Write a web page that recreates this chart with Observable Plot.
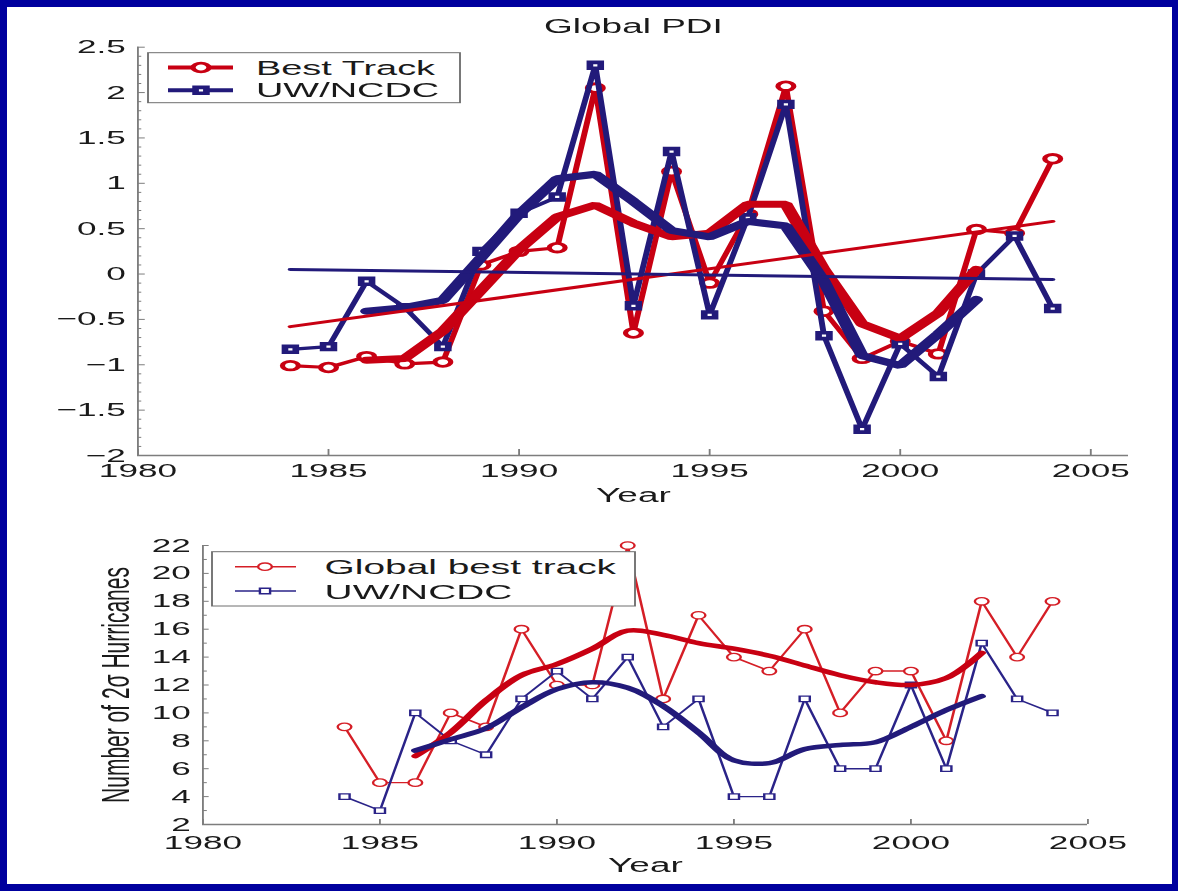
<!DOCTYPE html>
<html><head><meta charset="utf-8">
<script src="https://cdn.jsdelivr.net/npm/d3@7"></script>
<script src="https://cdn.jsdelivr.net/npm/@observablehq/plot@0.6"></script>
<style>
html,body{margin:0;padding:0;}
body{width:1178px;height:891px;background:#00009E;position:relative;overflow:hidden;font-family:"Liberation Sans",Arial,sans-serif;}
#panel{position:absolute;left:7px;top:7px;width:1165px;height:877px;background:#fff;}
.chart{position:absolute;left:0;width:637px;transform-origin:0 0;transform:scaleX(1.85);}
</style></head><body>
<div id="panel"></div>
<div id="top" class="chart" style="top:0px"></div>
<div id="bottom" class="chart" style="top:500px"></div>
<script>
// ---------------- data ----------------
const years = [1984,1985,1986,1987,1988,1989,1990,1991,1992,1993,1994,1995,1996,1997,1998,1999,2000,2001,2002,2003,2004];
const smoothYears = [1986,1987,1988,1989,1990,1991,1992,1993,1994,1995,1996,1997,1998,1999,2000,2001,2002];
const trendYears = [1984, 2004];

// Top panel: Global PDI (normalized)
const bestTrackPDI = [-1.01,-1.03,-0.91,-0.99,-0.97,0.10,0.25,0.29,2.05,-0.65,1.13,-0.10,0.66,2.07,-0.41,-0.93,-0.74,-0.88,0.49,0.45,1.27];
const ncdcPDI      = [-0.83,-0.80,-0.08,-0.37,-0.80,0.25,0.67,0.85,2.30,-0.35,1.35,-0.45,0.62,1.87,-0.68,-1.71,-0.77,-1.13,0.00,0.42,-0.38];
const bestTrackPDISmooth = [-0.95,-0.93,-0.63,-0.18,0.27,0.63,0.76,0.56,0.41,0.45,0.77,0.77,0.05,-0.55,-0.71,-0.43,0.05];
const ncdcPDISmooth      = [-0.41,-0.37,-0.29,0.18,0.66,1.05,1.10,0.80,0.48,0.41,0.58,0.53,-0.08,-0.90,-1.01,-0.66,-0.28];
const bestTrackPDITrend = [-0.58, 0.58];
const ncdcPDITrend      = [0.05, -0.06];

// Bottom panel: Number of 2-sigma hurricanes
const bestTrackCount = [9,5,5,10,9,16,12,12,22,11,17,14,13,16,10,13,13,8,18,14,18];
const ncdcCount      = [4,3,10,8,7,11,13,11,14,9,11,4,4,11,6,6,12,6,15,11,10];
const bestTrackCountSmooth = [6.9,8.6,10.9,12.7,13.5,14.6,15.9,15.6,15.0,14.6,14.1,13.4,12.7,12.2,12.0,12.5,14.3];
const ncdcCountSmooth      = [7.3,8.1,8.9,10.4,11.7,12.2,11.8,10.5,8.6,6.6,6.4,7.4,7.7,7.9,9.0,10.2,11.2];

// ticks and labels
const xTicksTop = [1980,1985,1990,1995,2000,2005];
const xTickLabelsTop = ["1980","1985","1990","1995","2000","2005"];
const yTicksTop = [-2,-1.5,-1,-0.5,0,0.5,1,1.5,2,2.5];
const yTickLabelsTop = ["\u22122","\u22121.5","\u22121","\u22120.5","0","0.5","1","1.5","2","2.5"];
const xTicksBottom = [1980,1985,1990,1995,2000,2005];
const xTickLabelsBottom = ["1980","1985","1990","1995","2000","2005"];
const yTicksBottom = [2,4,6,8,10,12,14,16,18,20,22];
const yTickLabelsBottom = ["2","4","6","8","10","12","14","16","18","20","22"];

const topTitle = "Global PDI";
const xLabel = "Year";
const yLabelBottom = "Number of 2\u03C3 Hurricanes";
const topLegend = ["Best Track", "UW/NCDC"];
const bottomLegend = ["Global best track", "UW/NCDC"];

// ---------------- styling ----------------
const S = 1.85;               // horizontal stretch of the original picture
const RED = "#C80012", NAVY = "#221A7A";
const RED2 = "#D51E26", NAVY2 = "#2A2388";
const AXIS = "#7d7d7d", TEXT = "#1a1a1a";
const W = 637;

const lookup = (ticks, labels) => { const m = new Map(ticks.map((t,i)=>[t,labels[i]])); return d => m.get(d) ?? String(d); };

const pdiRows = years.map((year,i)=>({year, best: bestTrackPDI[i], ncdc: ncdcPDI[i]}));
const pdiSmoothRows = smoothYears.map((year,i)=>({year, best: bestTrackPDISmooth[i], ncdc: ncdcPDISmooth[i]}));
const pdiTrendRows = trendYears.map((year,i)=>({year, best: bestTrackPDITrend[i], ncdc: ncdcPDITrend[i]}));
const countRows = years.map((year,i)=>({year, best: bestTrackCount[i], ncdc: ncdcCount[i]}));
const countSmoothRows = smoothYears.map((year,i)=>({year, best: bestTrackCountSmooth[i], ncdc: ncdcCountSmooth[i]}));

const yMinorTop = d3.range(-20, 26).filter(v => v % 5 !== 0).map(v => v/10);
const yMinorBottom = d3.range(3, 22, 2);

const svgStyle = {background: "transparent", overflow: "visible", maxWidth: "none", color: TEXT, fontFamily: "'Liberation Sans', Arial, sans-serif"};

// ---------------- top chart ----------------
const topH = 510;
const topChart = Plot.plot({
  width: W, height: topH,
  marginLeft: 137/S, marginRight: W - 1128/S, marginTop: 46.7, marginBottom: topH - 455,
  style: svgStyle,
  x: {domain: [1980, 2006]},
  y: {domain: [-2, 2.5]},
  marks: [
    Plot.ruleX([1980], {stroke: AXIS, strokeWidth: 1}),
    Plot.ruleY([-2], {stroke: AXIS, strokeWidth: 1.5}),
    Plot.axisY({ticks: yMinorTop, tickSize: -2.3, fill: "none", stroke: AXIS, label: null}),
    Plot.axisY({ticks: yTicksTop, tickSize: -4.2, fill: "none", stroke: AXIS, label: null}),
    Plot.axisY({ticks: yTicksTop, tickSize: 0, tickPadding: 6.5, tickFormat: lookup(yTicksTop, yTickLabelsTop), fontSize: 19, label: null}),
    Plot.axisX({ticks: xTicksTop, tickSize: -6, fill: "none", stroke: AXIS, label: null}),
    Plot.axisX({ticks: xTicksTop, tickSize: 0, tickPadding: 8.5, tickFormat: lookup(xTicksTop, xTickLabelsTop), fontSize: 19, label: null}),
    Plot.line(pdiRows, {x: "year", y: "best", stroke: RED, strokeWidth: 3.2}),
    Plot.dot(pdiRows, {x: "year", y: "best", r: 4.3, stroke: RED, strokeWidth: 2.8, fill: "white"}),
    Plot.line(pdiRows, {x: "year", y: "ncdc", stroke: NAVY, strokeWidth: 3.2}),
    Plot.dot(pdiRows, {x: "year", y: "ncdc", symbol: "square", r: 3.3, stroke: NAVY, strokeWidth: 3.6, fill: "white"}),
    Plot.line(pdiSmoothRows, {x: "year", y: "best", stroke: RED, strokeWidth: 7, strokeLinejoin: "miter"}),
    Plot.line(pdiSmoothRows, {x: "year", y: "ncdc", stroke: NAVY, strokeWidth: 7, strokeLinejoin: "miter"}),
    Plot.line(pdiTrendRows, {x: "year", y: "best", stroke: RED, strokeWidth: 3}),
    Plot.line(pdiTrendRows, {x: "year", y: "ncdc", stroke: NAVY, strokeWidth: 3}),
    Plot.text([topTitle], {text: d => d, frameAnchor: "top", lineAnchor: "bottom", dy: 32 - 46.7, fontSize: 20, fill: TEXT}),
    Plot.text([xLabel], {text: d => d, frameAnchor: "bottom", lineAnchor: "bottom", dy: 46, fontSize: 20, fill: TEXT})
  ]
});
document.getElementById("top").appendChild(topChart);

// ---------------- bottom chart ----------------
const botH = 391;
const bottomChart = Plot.plot({
  width: W, height: botH,
  marginLeft: 202/S, marginRight: W - 1087/S, marginTop: 45, marginBottom: botH - 324,
  style: svgStyle,
  x: {domain: [1980, 2005]},
  y: {domain: [2, 22]},
  marks: [
    Plot.ruleX([1980], {stroke: AXIS, strokeWidth: 1}),
    Plot.ruleY([2], {stroke: AXIS, strokeWidth: 1.5}),
    Plot.axisY({ticks: yMinorBottom, tickSize: -2.6, fill: "none", stroke: AXIS, label: null}),
    Plot.axisY({ticks: yTicksBottom, tickSize: -3.6, fill: "none", stroke: AXIS, label: null}),
    Plot.axisY({ticks: yTicksBottom, tickSize: 0, tickPadding: 6.5, tickFormat: lookup(yTicksBottom, yTickLabelsBottom), fontSize: 19, label: null}),
    Plot.axisX({ticks: xTicksBottom, tickSize: -5, fill: "none", stroke: AXIS, label: null}),
    Plot.axisX({ticks: xTicksBottom, tickSize: 0, tickPadding: 11.5, tickFormat: lookup(xTicksBottom, xTickLabelsBottom), fontSize: 19, label: null}),
    Plot.line(countRows, {x: "year", y: "best", stroke: RED2, strokeWidth: 1.4}),
    Plot.dot(countRows, {x: "year", y: "best", r: 3.7, stroke: RED2, strokeWidth: 1.3, fill: "white"}),
    Plot.line(countRows, {x: "year", y: "ncdc", stroke: NAVY2, strokeWidth: 1.4}),
    Plot.dot(countRows, {x: "year", y: "ncdc", symbol: "square", r: 3.1, stroke: NAVY2, strokeWidth: 1.3, fill: "white"}),
    Plot.line(countSmoothRows, {x: "year", y: "best", stroke: RED, strokeWidth: 4.5, curve: "catmull-rom"}),
    Plot.line(countSmoothRows, {x: "year", y: "ncdc", stroke: NAVY, strokeWidth: 4.5, curve: "catmull-rom"}),
    Plot.text([xLabel], {text: d => d, frameAnchor: "bottom", lineAnchor: "bottom", dy: 47, fontSize: 20, fill: TEXT}),
    Plot.text([yLabelBottom], {text: d => d, frameAnchor: "left", rotate: -90, dx: 116/S - 202/S, textAnchor: "middle", lineAnchor: "middle", fontSize: 21, fill: TEXT})
  ]
});
document.getElementById("bottom").appendChild(bottomChart);

// ---------------- legends ----------------
function addLegend(svg, cfg) {
  const g = d3.select(svg).append("g").attr("class", "legend").attr("text-anchor", "start");
  g.append("rect").attr("x", cfg.x0).attr("y", cfg.y0).attr("width", cfg.x1 - cfg.x0).attr("height", cfg.y1 - cfg.y0)
    .attr("fill", "white").attr("stroke", "#6e6e6e").attr("stroke-width", 1);
  cfg.items.forEach((it, i) => {
    const cy = cfg.rows[i];
    g.append("line").attr("x1", cfg.lx0).attr("x2", cfg.lx1).attr("y1", cy).attr("y2", cy)
      .attr("stroke", it.color).attr("stroke-width", it.lw);
    if (it.marker === "circle") {
      g.append("circle").attr("cx", cfg.mx).attr("cy", cy).attr("r", it.r)
        .attr("fill", "white").attr("stroke", it.color).attr("stroke-width", it.sw);
    } else {
      g.append("path").attr("transform", `translate(${cfg.mx},${cy})`)
        .attr("d", d3.symbol(d3.symbolSquare, Math.PI * it.r * it.r)())
        .attr("fill", "white").attr("stroke", it.color).attr("stroke-width", it.sw);
    }
    g.append("text").attr("x", cfg.tx).attr("y", cfg.base[i]).attr("font-size", cfg.fs)
      .attr("text-anchor", "start").attr("fill", TEXT).text(it.label);
  });
}
addLegend(topChart, {
  x0: 148/S, x1: 460/S, y0: 52.7, y1: 102.7,
  rows: [67.5, 90.3], base: [75, 97.3], lx0: 168/S, lx1: 233/S, mx: 201/S, tx: 256/S, fs: 20.5,
  items: [
    {label: topLegend[0], color: RED, lw: 4, marker: "circle", r: 4.3, sw: 2.8},
    {label: topLegend[1], color: NAVY, lw: 4, marker: "square", r: 3.3, sw: 3.6}
  ]
});
addLegend(bottomChart, {
  x0: 212/S, x1: 635/S, y0: 51.7, y1: 106,
  rows: [66.7, 91], base: [74.5, 99], lx0: 235/S, lx1: 296/S, mx: 265/S, tx: 324.6/S, fs: 21,
  items: [
    {label: bottomLegend[0], color: RED2, lw: 1.5, marker: "circle", r: 3.7, sw: 1.3},
    {label: bottomLegend[1], color: NAVY2, lw: 1.5, marker: "square", r: 3.1, sw: 1.3}
  ]
});
</script></body></html>
